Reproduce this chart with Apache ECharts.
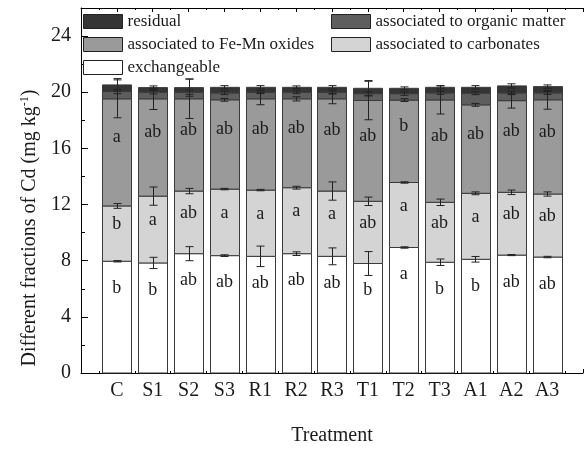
<!DOCTYPE html>
<html>
<head>
<meta charset="utf-8">
<script src="https://cdn.jsdelivr.net/npm/echarts@6/dist/echarts.min.js"></script>
<style>
  html, body { margin: 0; padding: 0; background: #fff; }
  #chart { width: 586px; height: 451px; }
</style>
</head>
<body>
<div id="chart"></div>
<script>
// Treatments along the x axis
const treatments = ['C', 'S1', 'S2', 'S3', 'R1', 'R2', 'R3', 'T1', 'T2', 'T3', 'A1', 'A2', 'A3'];

// Cd fractions (mg kg-1), bottom to top of each stacked bar
const exchangeable  = [7.96, 7.84, 8.50, 8.36, 8.31, 8.50, 8.31, 7.80, 8.94, 7.89, 8.10, 8.40, 8.26];
const carbonates    = [3.94, 4.76, 4.46, 4.74, 4.72, 4.70, 4.65, 4.43, 4.63, 4.27, 4.70, 4.47, 4.49];
const feMnOxides    = [7.63, 6.93, 6.57, 6.36, 6.50, 6.33, 6.57, 7.18, 5.87, 7.29, 6.30, 6.53, 6.71];
const organicMatter = [0.52, 0.47, 0.47, 0.49, 0.47, 0.47, 0.47, 0.49, 0.46, 0.50, 0.83, 0.55, 0.49];
const residual      = [0.47, 0.33, 0.33, 0.40, 0.35, 0.35, 0.35, 0.38, 0.38, 0.40, 0.42, 0.50, 0.45];

// Standard deviations of each fraction
const sdExchangeable  = [0.05, 0.40, 0.50, 0.06, 0.73, 0.13, 0.60, 0.85, 0.05, 0.23, 0.20, 0.04, 0.05];
const sdCarbonates    = [0.17, 0.65, 0.19, 0.05, 0.05, 0.10, 0.65, 0.30, 0.05, 0.23, 0.10, 0.16, 0.15];
const sdFeMnOxides    = [1.35, 0.76, 1.40, 0.10, 0.42, 0.15, 0.35, 1.37, 0.10, 1.00, 0.10, 0.53, 0.67];
const sdOrganicMatter = [0.15, 0.12, 0.15, 0.12, 0.10, 0.10, 0.10, 0.12, 0.12, 0.10, 0.10, 0.12, 0.10];
const sdResidual      = [0.45, 0.12, 0.62, 0.12, 0.12, 0.10, 0.12, 0.55, 0.10, 0.12, 0.12, 0.15, 0.12];

// Significance letters
const lettersExchangeable = ['b', 'b', 'ab', 'ab', 'ab', 'ab', 'ab', 'b', 'a', 'b', 'b', 'ab', 'ab'];
const lettersCarbonates   = ['b', 'a', 'ab', 'a', 'a', 'a', 'a', 'ab', 'a', 'ab', 'a', 'ab', 'ab'];
const lettersFeMnOxides   = ['a', 'ab', 'ab', 'ab', 'ab', 'ab', 'ab', 'ab', 'b', 'ab', 'ab', 'ab', 'ab'];

// Y axis ticks
const yMin = 0, yMax = 26, yStep = 4;

const SERIF = '"Liberation Serif", "Times New Roman", serif';
const INK = '#1a1a1a';

const fractions = [
  { name: 'exchangeable', values: exchangeable, sd: sdExchangeable, color: '#ffffff',
    letters: lettersExchangeable, letterPos: (lo, hi) => hi + 27 },
  { name: 'associated to carbonates', values: carbonates, sd: sdCarbonates, color: '#d4d4d4',
    letters: lettersCarbonates, letterPos: (lo, hi) => (lo + hi) / 2 - 9 },
  { name: 'associated to Fe-Mn oxides', values: feMnOxides, sd: sdFeMnOxides, color: '#9a9a9a',
    letters: lettersFeMnOxides, letterPos: (lo, hi) => (lo + hi) / 2 - 15 },
  { name: 'associated to organic matter', values: organicMatter, sd: sdOrganicMatter, color: '#5e5e5e' },
  { name: 'residual', values: residual, sd: sdResidual, color: '#353535' }
];

// cumulative bottoms/tops of every segment
const base = treatments.map(() => 0);
const barSeries = [];
const errorSeries = [];
fractions.forEach((f) => {
  const segs = f.values.map((v, i) => {
    const lo = base[i];
    const hi = lo + v;
    base[i] = hi;
    return [i + 1, lo, hi];
  });
  barSeries.push({
    name: f.name,
    type: 'custom',
    color: f.color,
    itemStyle: { color: f.color },
    encode: { x: 0, y: [1, 2] },
    z: 2,
    data: segs,
    renderItem: (params, api) => {
      const i = params.dataIndex;
      const x = api.value(0);
      const pLo = api.coord([x, api.value(1)]);
      const pHi = api.coord([x, api.value(2)]);
      const w = api.size([0.81, 0])[0];
      const left = Math.round(pLo[0] - w / 2) + 0.5;
      const children = [{
        type: 'rect',
        shape: { x: left, y: pHi[1], width: Math.round(w), height: pLo[1] - pHi[1] },
        style: { fill: f.color, stroke: '#3a3a3a', lineWidth: 1 }
      }];
      if (f.letters) {
        children.push({
          type: 'text',
          x: pLo[0],
          y: f.letterPos(pLo[1], pHi[1]),
          style: {
            text: f.letters[i], font: '18px ' + SERIF, fill: INK,
            align: 'center', verticalAlign: 'middle'
          }
        });
      }
      return { type: 'group', children };
    }
  });
  errorSeries.push({
    type: 'custom',
    z: 5,
    silent: true,
    encode: { x: 0, y: 1 },
    data: segs.map((s, i) => [s[0], s[2], f.sd[i]]),
    renderItem: (params, api) => {
      const x = api.value(0), top = api.value(1), e = api.value(2);
      const pA = api.coord([x, top + e]);
      const pB = api.coord([x, top - e]);
      const cx = Math.round(pA[0]) + 0.5;
      const cap = 4;
      const st = { stroke: '#222', lineWidth: 1 };
      return {
        type: 'group',
        children: [
          { type: 'line', shape: { x1: cx, y1: pA[1], x2: cx, y2: pB[1] }, style: st },
          { type: 'line', shape: { x1: cx - cap, y1: pA[1], x2: cx + cap, y2: pA[1] }, style: st },
          { type: 'line', shape: { x1: cx - cap, y1: pB[1], x2: cx + cap, y2: pB[1] }, style: st }
        ]
      };
    }
  });
});

const legendCommon = {
  orient: 'vertical',
  icon: 'rect',
  padding: 0,
  itemWidth: 39,
  itemHeight: 14,
  itemGap: 6,
  selectedMode: false,
  itemStyle: { borderColor: '#222', borderWidth: 1 },
  textStyle: { fontFamily: SERIF, fontSize: 17, color: INK, lineHeight: 17 }
};

const chart = echarts.init(document.getElementById('chart'), null, { renderer: 'canvas' });
chart.setOption({
  animation: false,
  backgroundColor: '#fff',
  grid: { left: 81, right: 2, top: 8, bottom: 73 },
  legend: [
    Object.assign({ left: 83, top: 13, data: ['residual', 'associated to Fe-Mn oxides', 'exchangeable'] }, legendCommon),
    Object.assign({ left: 331, top: 13, data: ['associated to organic matter', 'associated to carbonates'] }, legendCommon)
  ],
  xAxis: [
    {
      type: 'value', min: 0, max: treatments.length + 1, interval: 1,
      name: 'Treatment', nameLocation: 'middle', nameGap: 53,
      nameTextStyle: { fontFamily: SERIF, fontSize: 20, color: INK },
      axisLine: { show: true, lineStyle: { color: '#000', width: 1 } },
      axisTick: { show: true, inside: true, length: 4, lineStyle: { color: '#000' } },
      minorTick: { show: true, splitNumber: 2, length: 2, lineStyle: { color: '#000' } },
      splitLine: { show: false },
      axisLabel: {
        margin: 8, fontFamily: SERIF, fontSize: 20, color: INK,
        formatter: v => treatments[v - 1] || ''
      }
    },
    {
      type: 'value', position: 'top', min: 0, max: treatments.length + 1, interval: 1,
      axisLine: { show: true, lineStyle: { color: '#000', width: 1 } },
      axisTick: { show: true, inside: true, length: 4, lineStyle: { color: '#000' } },
      minorTick: { show: true, splitNumber: 2, length: 2, lineStyle: { color: '#000' } },
      splitLine: { show: false },
      axisLabel: { show: false }
    }
  ],
  yAxis: {
    type: 'value', min: yMin, max: yMax, interval: yStep,
    axisLine: { show: true, lineStyle: { color: '#000', width: 1 } },
    axisTick: { show: true, inside: true, length: 7, lineStyle: { color: '#000' } },
    minorTick: { show: true, splitNumber: 2, length: 4, lineStyle: { color: '#000' } },
    splitLine: { show: false },
    axisLabel: {
      margin: 10, fontFamily: SERIF, fontSize: 20, color: INK, showMaxLabel: false,
      formatter: v => (v % yStep === 0 ? String(v) : '')
    }
  },
  graphic: [{
    type: 'text',
    x: 30, y: 228,
    rotation: Math.PI / 2,
    style: {
      text: 'Different fractions of Cd (mg kg{sup|-1})',
      font: '20px ' + SERIF,
      fill: INK,
      align: 'center',
      verticalAlign: 'middle',
      rich: { sup: { fontSize: 12, fontFamily: SERIF, fill: INK, padding: [0, 0, 10, 0] } }
    }
  }],
  series: barSeries.concat(errorSeries)
});
</script>
</body>
</html>
